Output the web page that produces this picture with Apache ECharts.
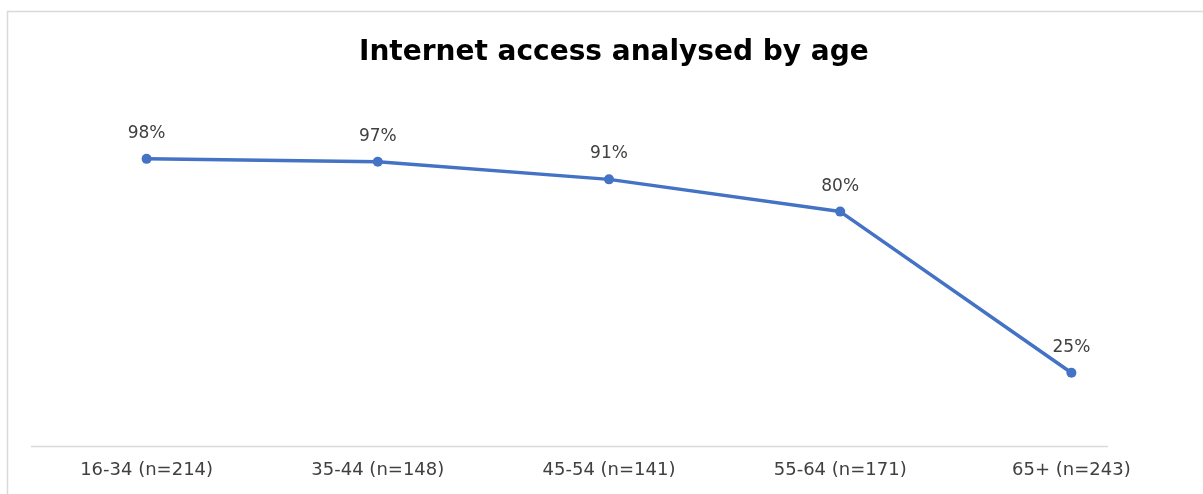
<!DOCTYPE html>
<html><head><meta charset="utf-8">
<script src="https://cdn.jsdelivr.net/npm/echarts@6/dist/echarts.min.js"></script>
<style>html,body{margin:0;padding:0;background:#fff}#c{width:1203px;height:494px}</style>
</head><body><div id="c"></div>
<script>
const categories = ['16-34 (n=214)', '35-44 (n=148)', '45-54 (n=141)', '55-64 (n=171)', '65+ (n=243)'];
const values = [98, 97, 91, 80, 25];
const titleText = 'Internet access analysed by age';

const chart = echarts.init(document.getElementById('c'));
chart.setOption({
  animation: false,
  title: {
    text: titleText, left: 354, top: 34,
    textStyle: { fontFamily: 'DejaVu Sans', fontWeight: 'bold', fontSize: 28, color: '#000' }
  },
  graphic: [
    { type: 'rect', shape: { x: 7.5, y: 11.5, width: 1300, height: 600 }, style: { fill: 'none', stroke: '#d9d9d9', lineWidth: 1.5 }, z: 0 },
    { type: 'line', shape: { x1: 31, y1: 446.5, x2: 1108, y2: 446.5 }, style: { stroke: '#d9d9d9', lineWidth: 1.5 }, z: 1 }
  ],
  grid: { left: 31, right: 16, top: 153, bottom: 48, containLabel: false },
  xAxis: {
    type: 'category', data: categories, boundaryGap: true,
    axisLine: { show: false }, axisTick: { show: false },
    axisLabel: { color: '#404040', fontFamily: 'DejaVu Sans', fontSize: 18, margin: 15 }
  },
  yAxis: { type: 'value', min: 0, max: 100, show: false, splitLine: { show: false } },
  series: [{
    type: 'line', data: values,
    lineStyle: { color: '#4472C4', width: 3.5 },
    itemStyle: { color: '#4472C4' },
    symbol: 'circle', symbolSize: 10,
    label: { show: true, position: 'top', distance: 12, formatter: '{c}%', color: '#404040', fontFamily: 'DejaVu Sans', fontSize: 17 }
  }]
});
</script></body></html>
